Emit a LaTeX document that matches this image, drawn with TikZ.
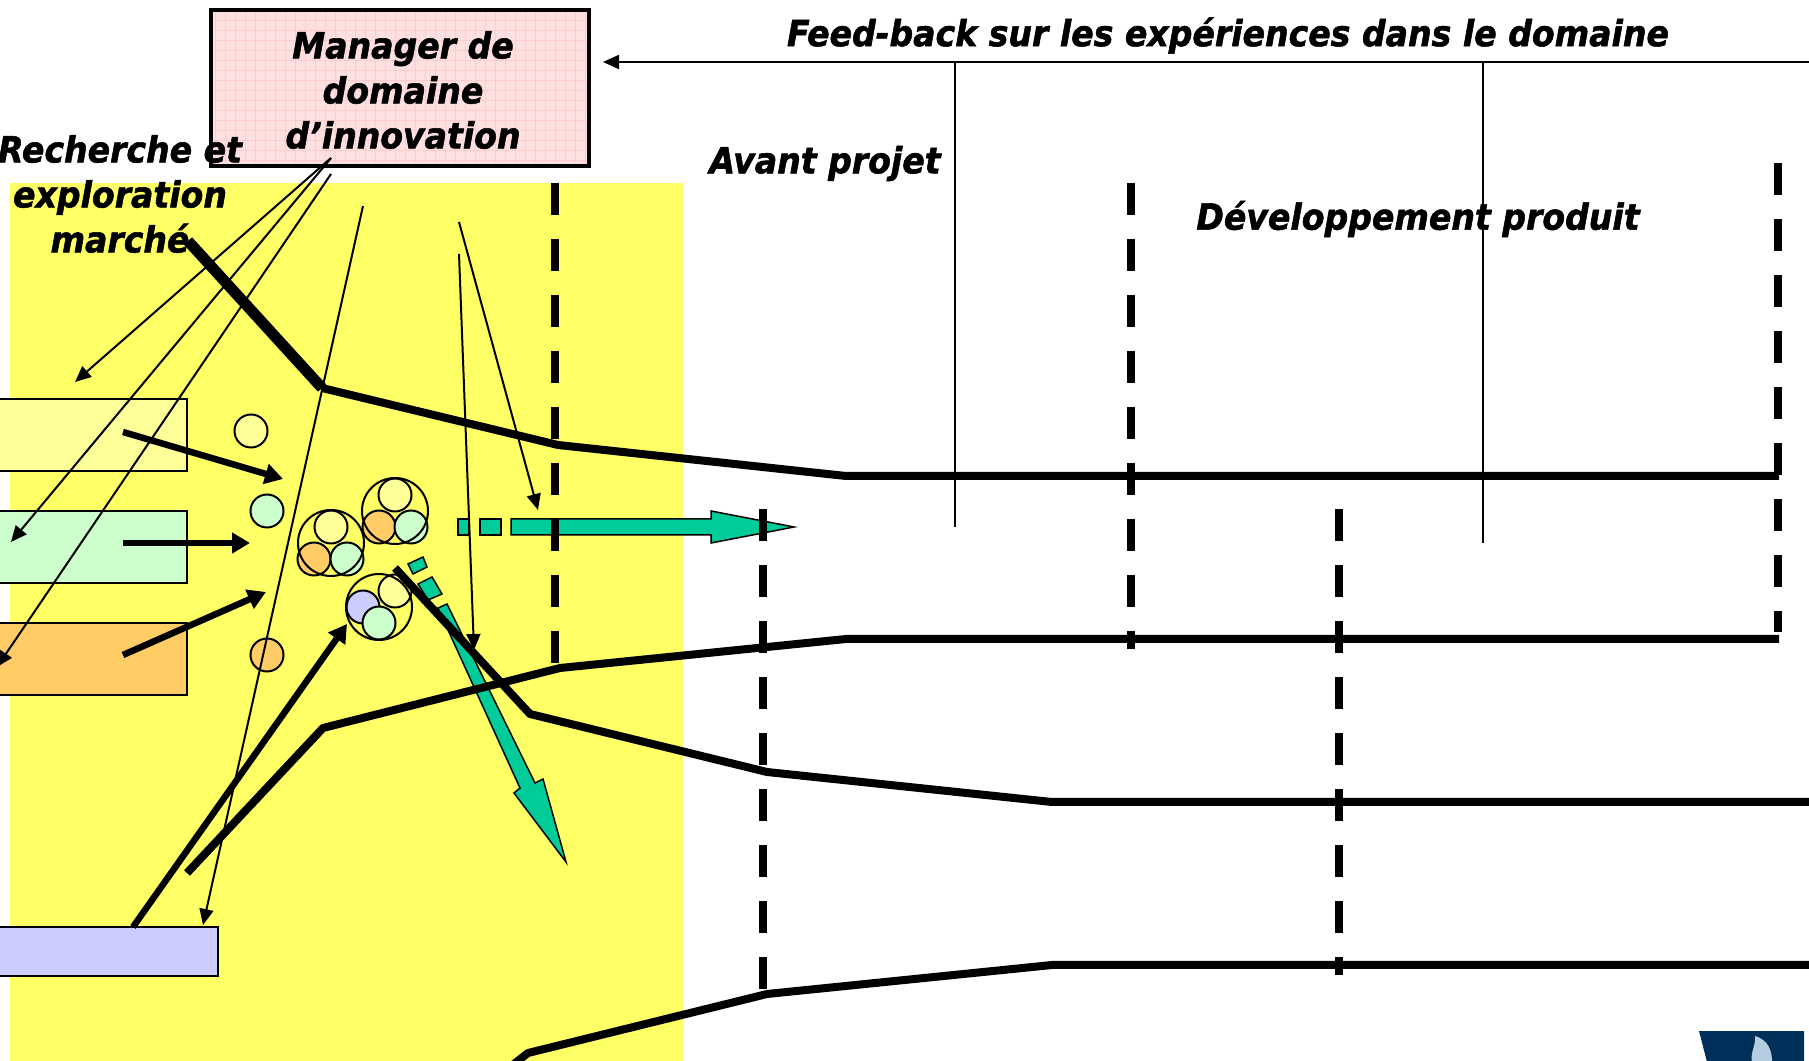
\documentclass[tikz,border=0pt]{standalone}
\usepackage{xcolor}
\usepackage{fontspec}
\usepackage{tikz}
\usetikzlibrary{arrows.meta}
\newfontfamily\labelFont[FakeStretch=0.92,BoldItalicFeatures={FakeBold=1.5}]{DejaVu Sans}
\tikzset{
  labelText/.style={text=black,anchor=center,align=center,inner sep=0pt,outer sep=0pt,font=\fontsize{36}{45}\selectfont\labelFont\bfseries\itshape},
  sourceBox/.style={draw=black,line width=2pt,inner sep=0pt,outer sep=0pt,minimum height=72pt,minimum width=192pt},
  idea/.style={circle,draw=black,line width=2pt,inner sep=0pt,outer sep=0pt,minimum size=33pt},
  bundle/.style={circle,draw=black,line width=2pt,inner sep=0pt,outer sep=0pt,minimum size=66pt},
  thinArrow/.style={draw=black,line width=2pt,-{Triangle[length=16pt,width=14pt]}},
  thinLine/.style={draw=black,line width=2pt},
  thickArrow/.style={draw=black,line width=6.5pt,-{Triangle[length=18pt,width=20pt]}},
  stageLine/.style={draw=black,line width=8pt,line join=round},
  gateLine/.style={draw=black,line width=8pt,dash pattern=on 32pt off 24pt},
  flowPart/.style={draw=black,line width=1.5pt,fill=flowColor,line join=miter}
}
\begin{document}
\begin{tikzpicture}[x=1pt,y=1pt]
\definecolor{fieldColor}{RGB}{255,255,102}
\definecolor{paleYellow}{RGB}{255,255,153}
\definecolor{paleGreen}{RGB}{204,255,204}
\definecolor{paleOrange}{RGB}{255,204,102}
\definecolor{paleBlue}{RGB}{204,204,255}
\definecolor{flowColor}{RGB}{0,204,153}
\definecolor{pinkFill}{RGB}{255,224,224}
\definecolor{pinkGrid}{RGB}{255,204,204}
\definecolor{logoColor}{RGB}{0,48,90}
\definecolor{logoLight}{RGB}{181,205,224}
\path[use as bounding box,fill=white] (0,0) rectangle (1809,1060);
\begin{scope}
\path[clip] (0,0) rectangle (1809,1060);

\path[fill=fieldColor] (10,-5) rectangle (683,877);

\path[fill=pinkFill] (211,894) rectangle (589,1050);
\foreach \gridX in {215,225,...,585} \path[draw=pinkGrid,line width=1pt] (\gridX,894) -- (\gridX,1050);
\foreach \gridY in {899,909,...,1049} \path[draw=pinkGrid,line width=1pt] (211,\gridY) -- (589,\gridY);
\path[draw=black,line width=4.5pt] (211,894) rectangle (589,1050);

\begin{scope}[yshift=-1pt]
\node[sourceBox,fill=paleYellow] (boxYellow) at (91,626) {};
\node[sourceBox,fill=paleGreen] (boxGreen) at (91,514) {};
\node[sourceBox,fill=paleOrange] (boxOrange) at (91,402) {};
\node[sourceBox,fill=paleBlue,minimum width=223pt,minimum height=49pt] (boxBlue) at (106.5,109.5) {};

\node[idea,fill=paleYellow] (ideaYellow) at (251,630) {};
\node[idea,fill=paleGreen] (ideaGreen) at (267,550) {};
\node[idea,fill=paleOrange] (ideaOrange) at (267,406) {};

\node[idea,fill=paleYellow] (leftYellow) at (331,534) {};
\node[idea,fill=paleOrange] (leftOrange) at (314,502) {};
\node[idea,fill=paleGreen] (leftGreen) at (347,502) {};
\node[bundle] (leftBundle) at (331,518) {};

\node[idea,fill=paleYellow] (rightYellow) at (395,566) {};
\node[idea,fill=paleOrange] (rightOrange) at (379,534) {};
\node[idea,fill=paleGreen] (rightGreen) at (411,534) {};
\node[bundle] (rightBundle) at (395,550) {};

\node[idea,fill=paleYellow] (lowYellow) at (395,470) {};
\node[idea,fill=paleBlue] (lowBlue) at (363,454) {};
\node[idea,fill=paleGreen] (lowGreen) at (379,438) {};
\node[bundle] (lowBundle) at (379,454) {};

\path[flowPart] (458,526) rectangle (469,542);
\path[flowPart] (480,526) rectangle (501,542);
\path[flowPart] (511,542) -- (711,542) -- (711,550) -- (794,534) -- (711,518) -- (711,526) -- (511,526) -- cycle;

\path[flowPart] (408,497) -- (423,504) -- (427,494) -- (413,487) -- cycle;
\path[flowPart] (418,477) -- (432,484) -- (442,467) -- (428,461) -- cycle;
\path[flowPart] (447,457) -- (535,278) -- (543,282) -- (566,199) -- (514,268) -- (520,273) -- (438,453) -- cycle;

\coordinate (mgrA) at (331,903);
\coordinate (mgrB) at (331,887);
\coordinate (mgrC) at (363,855);
\coordinate (mgrD) at (459,839);
\coordinate (mgrE) at (459,807);
\coordinate (toSearch) at (75,679);
\coordinate (toGreen) at (11,519);
\coordinate (toOrange) at (-3,394);
\coordinate (toBlue) at (203,136);
\coordinate (toFlow) at (538,551);
\coordinate (toBranch) at (474,411);
\coordinate (fbStart) at (1809,999);
\coordinate (fbEnd) at (603,999);
\coordinate (fbDropA) at (955,999);
\coordinate (fbDropB) at (1483,999);
\coordinate (fbFootA) at (955,534);
\coordinate (fbFootB) at (1483,518);

\draw[thinArrow] (mgrA) -- (toSearch);
\draw[thinArrow] (mgrA) -- (toGreen);
\draw[thinArrow] (mgrB) -- (toOrange);
\draw[thinArrow] (mgrC) -- (toBlue);
\draw[thinArrow] (mgrD) -- (toFlow);
\draw[thinArrow] (mgrE) -- (toBranch);
\draw[thinArrow] (fbStart) -- (fbEnd);
\draw[thinLine] (fbDropA) -- (fbFootA);
\draw[thinLine] (fbDropB) -- (fbFootB);

\coordinate (yellowOut) at (123,629);
\coordinate (greenOut) at (123,518);
\coordinate (orangeOut) at (123,406);
\coordinate (blueOut) at (133,134);
\coordinate (yellowIn) at (283,582);
\coordinate (greenIn) at (250,518);
\coordinate (orangeIn) at (266,469);
\coordinate (blueIn) at (347,437);

\draw[thickArrow] (yellowOut) -- (yellowIn);
\draw[thickArrow] (greenOut) -- (greenIn);
\draw[thickArrow] (orangeOut) -- (orangeIn);
\draw[thickArrow] (blueOut) -- (blueIn);

\path[gateLine] (555,878) -- (555,397);
\path[gateLine] (763,552) -- (763,72);
\path[gateLine] (1131,878) -- (1131,411.5);
\path[gateLine] (1339,552) -- (1339,86);
\path[gateLine] (1778,898) -- (1778,429);

\path[stageLine,line width=11pt] (188,820) -- (322,673);
\path[stageLine] (322,673) -- (558,616) -- (846,585) -- (1779,585);
\path[stageLine] (187,188) -- (323,333) -- (560,393) -- (846,422) -- (1779,422);
\path[stageLine] (395,493) -- (530,347) -- (767,289) -- (1052,259) -- (1815,259);
\path[stageLine] (505,-10) -- (528,8) -- (767,67) -- (1052,96) -- (1815,96);
\end{scope}

\path[fill=logoColor] (1699,29) -- (1804,29) -- (1804,-2) -- (1707,-2) -- cycle;
\path[fill=logoLight] (1755,24) .. controls (1768,20) and (1772,10) .. (1772,-2) -- (1752,-2) .. controls (1750,8) and (1756,14) .. (1755,24) -- cycle;

\node[labelText] (feedbackLabel) at (1228,1024.5) {Feed-back sur les expériences dans le domaine};
\node[labelText] (managerLabel) at (403,970) {Manager de\\domaine\\d’innovation};
\node[labelText] (searchLabel) at (120,866) {Recherche et\\exploration\\marché};
\node[labelText] (avantLabel) at (825,896.5) {Avant projet};
\node[labelText] (devLabel) at (1418,841) {Développement produit};
\end{scope}
\end{tikzpicture}
\end{document}
